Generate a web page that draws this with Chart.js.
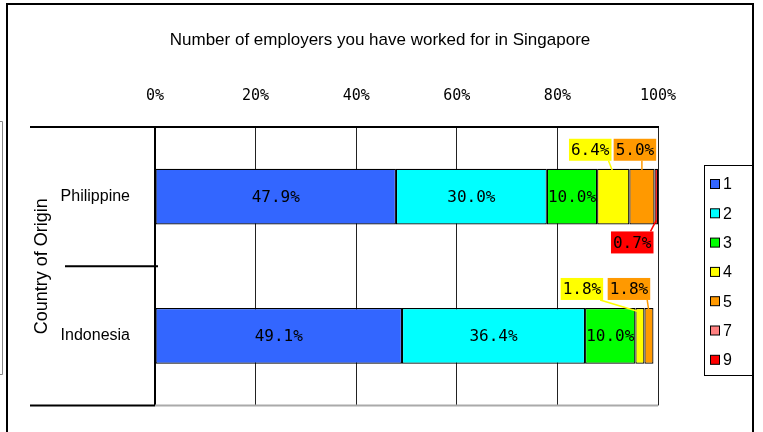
<!DOCTYPE html>
<html>
<head>
<meta charset="utf-8">
<script src="https://cdn.jsdelivr.net/npm/chart.js@4.4.1/dist/chart.umd.min.js"></script>
<style>
  html, body { margin: 0; padding: 0; background: #fff; }
  #wrap { width: 763px; height: 432px; }
</style>
</head>
<body>
<div id="wrap"><canvas id="chart" width="763" height="432"></canvas></div>
<script>
const chartTitle = "Number of employers you have worked for in Singapore";
const categories = ["Philippine", "Indonesia"];
const seriesNames = ["1", "2", "3", "4", "5", "7", "9"];
const seriesColors = ["#3366ff", "#00ffff", "#00ff00", "#ffff00", "#ff9900", "#ff8080", "#ff0000"];

// share of workers (%) per number of employers
const emp1 = [47.9, 49.1];
const emp2 = [30.0, 36.4];
const emp3 = [10.0, 10.0];
const emp4 = [6.4, 1.8];
const emp5 = [5.0, 1.8];
const emp7 = [0, 0];
const emp9 = [0.7, 0];
const seriesValues = [emp1, emp2, emp3, emp4, emp5, emp7, emp9];

const xTicks = [0, 20, 40, 60, 80, 100];

// where the small segments get their callout boxes ("dataset-index")
const callouts = {
  "3-0": { dx: -23, side: "top" },
  "4-0": { dx: -7, side: "top" },
  "6-0": { dx: -24, side: "bottom" },
  "3-1": { dx: -58, side: "top" },
  "4-1": { dx: -20, side: "top" }
};

const monoFont = "'DejaVu Sans Mono', 'Liberation Mono', monospace";
const sansFont = "'Liberation Sans', Arial, sans-serif";

const decorPlugin = {
  id: "decor",
  afterDraw(chart) {
    const ctx = chart.ctx;
    const area = chart.chartArea;
    const yScale = chart.scales.y;
    ctx.save();

    // outer frame
    ctx.strokeStyle = "#000";
    ctx.lineWidth = 2;
    ctx.beginPath();
    ctx.moveTo(7, 432); ctx.lineTo(7, 4); ctx.lineTo(753, 4); ctx.lineTo(753, 432);
    ctx.stroke();
    ctx.lineWidth = 1;
    ctx.strokeStyle = "#888";
    ctx.beginPath();
    ctx.moveTo(0, 121.5); ctx.lineTo(2.5, 121.5); ctx.lineTo(2.5, 374.5); ctx.lineTo(0, 374.5);
    ctx.stroke();

    // title
    ctx.fillStyle = "#000";
    ctx.font = "17px " + sansFont;
    ctx.textAlign = "center";
    ctx.textBaseline = "middle";
    ctx.fillText(chartTitle, 380, 40);

    // category frame lines on the left
    ctx.strokeStyle = "#000";
    ctx.lineWidth = 2;
    ctx.beginPath();
    ctx.moveTo(30, area.top); ctx.lineTo(area.left, area.top);
    ctx.moveTo(30, area.bottom); ctx.lineTo(area.left, area.bottom);
    const mid = (yScale.getPixelForValue(0) + yScale.getPixelForValue(1)) / 2;
    ctx.moveTo(65, mid); ctx.lineTo(area.left + 3, mid);
    ctx.stroke();
    ctx.strokeStyle = "#aaa";
    ctx.beginPath();
    ctx.moveTo(area.left, area.bottom); ctx.lineTo(area.right, area.bottom);
    ctx.stroke();

    // value labels
    ctx.font = "16px " + monoFont;
    chart.data.datasets.forEach((ds, di) => {
      const meta = chart.getDatasetMeta(di);
      meta.data.forEach((el, i) => {
        const v = ds.data[i];
        if (!v) return;
        const left = Math.min(el.x, el.base);
        const right = Math.max(el.x, el.base);
        const text = v.toFixed(1) + "%";
        const segX = (left + right) / 2;
        const key = di + "-" + i;
        if (!callouts[key]) {
          ctx.fillStyle = "#000";
          ctx.textAlign = "center";
          ctx.textBaseline = "middle";
          ctx.fillText(text, segX, el.y + 1);
          return;
        }
        const c = callouts[key];
        const tw = ctx.measureText(text).width;
        const bw = tw + 4, bh = 22;
        const bx = segX + c.dx - bw / 2;
        const top = el.y - el.height / 2;
        const bottom = el.y + el.height / 2;
        const by = c.side === "top" ? top - 30 : bottom + 7;
        // leader
        const lx = Math.max(bx + 3, Math.min(bx + bw - 3, segX));
        ctx.strokeStyle = ds.backgroundColor;
        ctx.lineWidth = 1.5;
        ctx.beginPath();
        if (c.side === "top") { ctx.moveTo(lx, by + bh); ctx.lineTo(segX, top + 4); }
        else { ctx.moveTo(lx, by); ctx.lineTo(segX, bottom - 4); }
        ctx.stroke();
        ctx.fillStyle = ds.backgroundColor;
        ctx.fillRect(bx, by, bw, bh);
        ctx.fillStyle = "#000";
        ctx.textAlign = "center";
        ctx.textBaseline = "middle";
        ctx.fillText(text, bx + bw / 2, by + bh / 2 + 1);
      });
    });

    // legend
    ctx.strokeStyle = "#000";
    ctx.lineWidth = 1;
    ctx.strokeRect(704.5, 165.5, 48, 210);
    ctx.font = "16px " + sansFont;
    ctx.textAlign = "left";
    ctx.textBaseline = "middle";
    chart.data.datasets.forEach((ds, di) => {
      const cy = 184 + di * 29.3;
      ctx.fillStyle = ds.backgroundColor;
      ctx.fillRect(710.5, cy - 4.5, 9, 9);
      ctx.strokeStyle = "#000";
      ctx.strokeRect(710.5, cy - 4.5, 9, 9);
      ctx.fillStyle = "#000";
      ctx.fillText(ds.label, 723, cy + 1);
    });
    ctx.restore();
  }
};

const chart = new Chart(document.getElementById("chart").getContext("2d"), {
  type: "bar",
  data: {
    labels: categories,
    datasets: seriesNames.map((name, k) => ({
      label: name,
      data: seriesValues[k],
      backgroundColor: seriesColors[k],
      borderColor: "#000",
      borderWidth: 1.2,
      borderSkipped: false,
      barPercentage: 0.4,
      categoryPercentage: 1
    }))
  },
  options: {
    indexAxis: "y",
    responsive: false,
    animation: false,
    layout: { padding: { top: 48, right: 105, bottom: 22, left: 30 } },
    plugins: {
      legend: { display: false },
      title: { display: false },
      tooltip: { enabled: false }
    },
    scales: {
      x: {
        position: "top",
        stacked: true,
        min: 0,
        max: 100,
        afterFit: (s) => { s.height = 79; },
        afterBuildTicks: (s) => { s.ticks = xTicks.map(v => ({ value: v })); },
        grid: { color: "#222", lineWidth: 1, drawTicks: false },
        border: { display: true, color: "#000", width: 2 },
        ticks: {
          padding: 22,
          color: "#000",
          font: { family: monoFont, size: 15 },
          callback: (v) => v + "%"
        }
      },
      y: {
        stacked: true,
        afterFit: (s) => { s.width = 125; },
        grid: { display: false },
        border: { display: true, color: "#000", width: 2 },
        title: {
          display: true,
          text: "Country of Origin",
          color: "#000",
          font: { family: sansFont, size: 18 },
          padding: { top: 1, bottom: 0 }
        },
        ticks: {
          padding: 17,
          color: "#000",
          font: { family: sansFont, size: 16 }
        }
      }
    }
  },
  plugins: [decorPlugin]
});
</script>
</body>
</html>
